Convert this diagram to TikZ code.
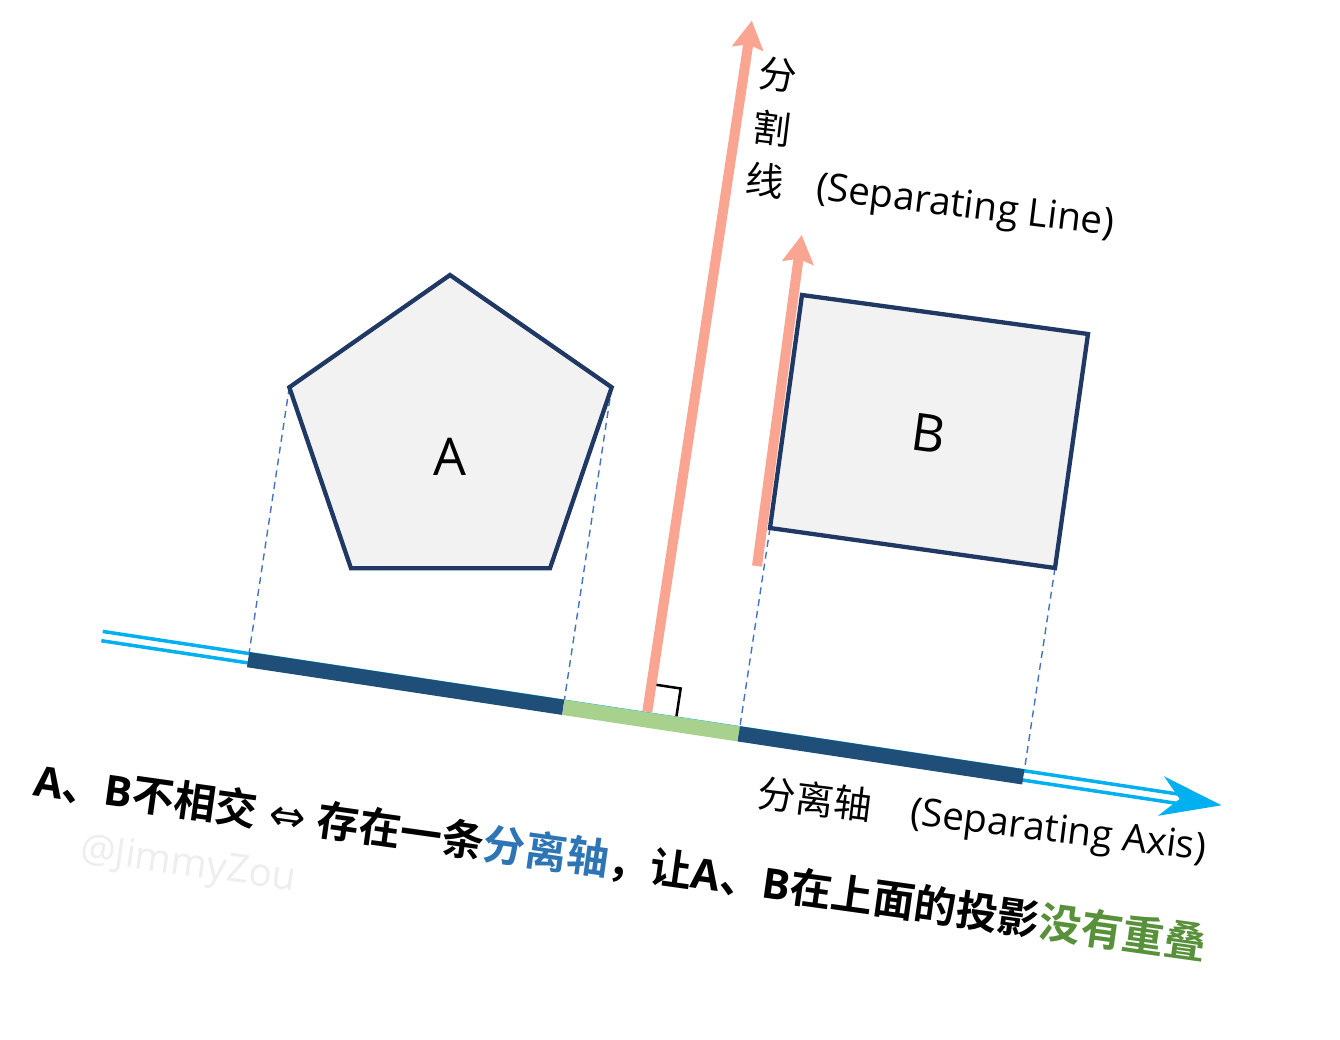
\documentclass[tikz,border=0pt]{standalone}
\usepackage{fontspec}
\setmainfont{Noto Sans CJK SC}[BoldFont={Noto Sans CJK SC Bold}]
\newfontfamily\lat{Open Sans}
\newfontfamily\sym{DejaVu Sans}
\usetikzlibrary{arrows.meta,calc}
\definecolor{navy}{RGB}{31,56,100}
\definecolor{shapefill}{RGB}{242,242,242}
\definecolor{barblue}{RGB}{31,78,121}
\definecolor{bargreen}{RGB}{169,209,142}
\definecolor{cyanline}{RGB}{0,176,240}
\definecolor{salmon}{RGB}{250,165,145}
\definecolor{dashblue}{RGB}{68,114,196}
\definecolor{axisblue}{RGB}{46,117,182}
\definecolor{okgreen}{RGB}{88,145,58}
\definecolor{wmgray}{RGB}{238,238,238}
\begin{document}
\begin{tikzpicture}[x=1pt,y=-1pt,
  polyshape/.style={draw=navy,fill=shapefill,line width=4.3pt,line join=miter},
  projline/.style={draw=dashblue,line width=1.4pt,dash pattern=on 7pt off 5pt},
  barpart/.style={line width=15.3pt},
  cyanl/.style={draw=cyanline,line width=3.5pt},
  sepline/.style={draw=salmon,line width=10pt,-{Stealth[length=28pt,width=31pt,inset=4pt]}},
  cjklabel/.style={inner sep=0pt,font=\fontsize{38}{44}\selectfont},
  latlabel/.style={inner sep=0pt,font=\lat\fontsize{38.5}{44}\selectfont},
  biglabel/.style={inner sep=0pt,font=\lat\fontsize{52}{60}\selectfont},
  wmlabel/.style={inner sep=0pt,text=wmgray,font=\lat\fontsize{39}{44}\selectfont},
  caption/.style={inner sep=0pt,anchor=base west,font=\bfseries\fontsize{42}{48}\selectfont}
]
\useasboundingbox (0,0) rectangle (1340,1039);
\fill[white] (0,0) rectangle (1340,1039);

% axis frame
\begin{scope}[rotate=-8.6]
  \coordinate (axL) at (196,609);
  \coordinate (axR) at (1300,609);
  \coordinate (axL2) at (196,618.4);
  \coordinate (axR2) at (1300,618.4);
  \coordinate (barL) at (196,615.2);
  \coordinate (barR) at (1300,615.2);
  \coordinate (topL) at (196,607.5);
  \coordinate (topR) at (1300,607.5);
  \coordinate (tip) at (1328.3,613.6);
  \coordinate (wingT) at (1267,593.5);
  \coordinate (wingB) at (1267,633.5);
  \coordinate (notch) at (1286,613.6);
  \coordinate (sepFoot) at (746.5,607);
  \coordinate (sepTip) at (746.5,-92);
  \coordinate (ra1) at (751.5,579);
  \coordinate (ra2) at (776,579);
  \coordinate (ra3) at (776,607);
\end{scope}

% shapes' corners
\coordinate (pTop) at (450,275);
\coordinate (pUR) at (611.7,387.3);
\coordinate (pBR) at (550,568.3);
\coordinate (pBL) at (351,568.3);
\coordinate (pUL) at (289.3,387.3);
\coordinate (sTL) at (802,295);
\coordinate (sTR) at (1088,334);
\coordinate (sBR) at (1055,568);
\coordinate (sBL) at (770,528);
\coordinate (sep2Foot) at (757,566);
\coordinate (sep2Tip) at (801.7,235);

% axis (double cyan line with arrow head)
\draw[cyanl] (axL) -- (axR);
\draw[cyanl] (axL2) -- (axR2);
\fill[cyanline] (tip) -- (wingT) -- (notch) -- (wingB) -- cycle;

% separating line
\draw[sepline] (sepFoot) -- (sepTip);

% projections
\draw[barpart,barblue] ($(barL)!(pUL)!(barR)$) -- ($(barL)!(pUR)!(barR)$);
\draw[barpart,bargreen] ($(barL)!(pUR)!(barR)$) -- ($(barL)!(sBL)!(barR)$);
\draw[barpart,barblue] ($(barL)!(sBL)!(barR)$) -- ($(barL)!(sBR)!(barR)$);

% right angle mark
\draw[line width=2.5pt,line join=miter] (ra1) -- (ra2) -- (ra3);

% dashed projection lines
\draw[projline] (pUL) -- ($(topL)!(pUL)!(topR)$);
\draw[projline] (pUR) -- ($(topL)!(pUR)!(topR)$);
\draw[projline] (sBL) -- ($(topL)!(sBL)!(topR)$);
\draw[projline] (sBR) -- ($(topL)!(sBR)!(topR)$);

% second separating arrow along B
\draw[sepline] (sep2Foot) -- (sep2Tip);

% shapes
\draw[polyshape] (pTop) -- (pUR) -- (pBR) -- (pBL) -- (pUL) -- cycle;
\draw[polyshape] (sTL) -- (sTR) -- (sBR) -- (sBL) -- cycle;
\node[biglabel] (labA) at (450,457) {A};
\node[biglabel,rotate=-7.8] (labB) at (929,433) {B};

% labels
\node[cjklabel,rotate=-7] (l1a) at (778,75) {分};
\node[cjklabel,rotate=-7] (l1b) at (772,128) {割};
\node[cjklabel,rotate=-7] (l1c) at (765,180) {线};
\node[latlabel,rotate=-7] (l1d) at (965,208) {(Separating Line)};
\node[cjklabel,rotate=-7] (l2a) at (815,799) {分离轴};
\node[latlabel,rotate=-7] (l2b) at (1058,833) {(Separating Axis)};

% watermark
\node[wmlabel,rotate=-8] (wm) at (188,866) {@JimmyZou};

% caption
\node[caption,rotate=-8] (cap) at (32,795) {{\lat\bfseries A}、{\lat\bfseries B}不相交\hspace{12pt}{\sym\mdseries\fontsize{44}{48}\selectfont ⇔}\hspace{12pt}存在一条{\color{axisblue}分离轴}，让{\lat\bfseries A}、{\lat\bfseries B}在上面的投影{\color{okgreen}没有重叠}};
\end{tikzpicture}
\end{document}
